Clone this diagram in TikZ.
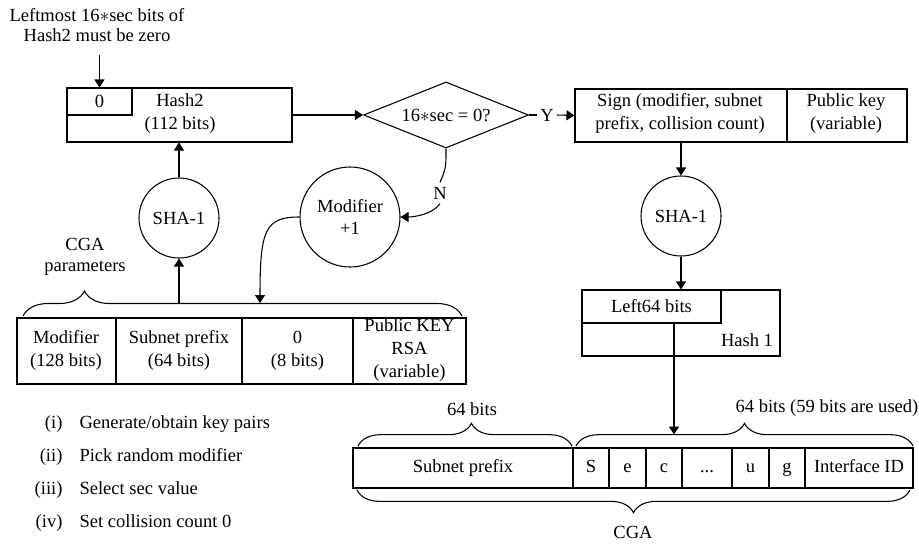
\documentclass[tikz,border=0pt]{standalone}
\usepackage{fontspec}
\setmainfont{Liberation Serif}
\usetikzlibrary{arrows.meta,shapes.geometric,fit,decorations.pathreplacing}
\newcommand{\tripledot}{...}

\begin{document}
\begin{tikzpicture}[x=0.75pt,y=-0.75pt, line width=0.8pt,
  font=\fontsize{13.9pt}{17pt}\selectfont,
  box/.style={draw, inner sep=0pt, fit={#1}},
  txt/.style={align=center, inner sep=0pt},
  arr/.style={-{Triangle[width=7.5pt,length=6pt]}},
  brc/.style={decorate, decoration={brace, amplitude=#1}},
  celltxt/.style={inner sep=0pt, execute at begin node=\strut}]
\useasboundingbox (0,0) rectangle (919,546);

% ---- Hash2 and its leading zero field ----
\node[txt, font=\fontsize{13.9pt}{15pt}\selectfont] (note) at (97,25)
  {Leftmost 16$\ast$sec bits of\\Hash2 must be zero};
\node[box={(67,88)(292,142)}] (h2) {};
\node[txt] (h2t) at (180,113.5) {Hash2\\(112 bits)};
\node[box={(67,88)(132,115)}] (z0) {};
\node[txt] (z0t) at (z0.center) {0};
\coordinate (notetip) at (99.5,55);
\draw[arr] (notetip) -- (z0.north);

% ---- decision ----
\node[draw, diamond, aspect=2.5, minimum width=123.75pt, minimum height=49.5pt,
  inner sep=1pt] (dia) at (446,115) {16$\ast$sec = 0?};
\draw[arr] (h2.east) -- (dia.west);

\node[txt, inner sep=2pt] (yes) at (547,115) {Y};
\draw (dia.east) -- (yes.west);

% ---- signature branch ----
\node[box={(575,89)(787,142)}] (signL) {};
\node[txt] at (680,113.5) (signLt) {Sign (modifier, subnet\\prefix, collision count)};
\node[box={(787,89)(907,142)}] (signR) {};
\node[txt] at (846,113.5) (signRt) {Public key\\(variable)};
\draw[arr] (yes.east) -- (signL.west);

\node[circle, draw, minimum size=60pt, inner sep=0pt] (sha2) at (681,216) {SHA-1};
\draw[arr] (signL.south) -- (sha2.north);

\node[box={(582,290)(780,356)}] (h1) {};
\node[box={(582,290)(721,323)}] (l64) {};
\node[txt] (l64t) at (l64.center) {Left64 bits};
\node[txt] (h1t) at (747,340) {Hash 1};
\draw[arr] (sha2.south) -- (h1.north);

% ---- CGA address ----
\foreach \nm/\xa/\xb/\lab in {cp/353/573/Subnet prefix, cs/573/609/S, ce/609/646/e,
    cc/646/682/c, cd/682/732/\tripledot, cu/732/769/u, cg/769/805/g, cid/805/913/Interface ID}{
  \node[box={(\xa,448)(\xb,488)}] (\nm) {};
  \node[celltxt] (\nm t) at (\nm.center) {\lab};
}

\draw[brc=17pt, decoration={aspect=0.53}] (358,446) -- (572,446);
\draw[brc=17pt] (576,446) -- (913,446);
\draw[brc=17pt] (910,490) -- (357,490);
\node[txt] (lb64) at (472,409) {64 bits};
\node[txt] (lb59) at (827,408) {64 bits (59 bits are used)};
\node[txt] (lbcga) at (633,532) {CGA};

\coordinate (ain) at (674,434.5);
\draw[arr] (l64.south -| ain) -- (ain);

% ---- CGA parameters ----
\node[box={(17,318)(116,384)}] (tm) {};
\node[txt] (tmt) at (66,350.5) {Modifier\\(128 bits)};
\node[box={(116,318)(242,384)}] (ts) {};
\node[txt] (tst) at (179,350.5) {Subnet prefix\\(64 bits)};
\node[box={(242,318)(353,384)}] (tz) {};
\node[txt] (tzt) at (297.5,350.5) {0\\(8 bits)};
\node[box={(353,318)(466,384)}] (tk) {};
\node[txt, font=\fontsize{13.9pt}{17.5pt}\selectfont] (tkt) at (409.5,350) {Public KEY\\RSA\\(variable)};

\draw[brc=18.75pt, decoration={aspect=0.14}] (23,316) -- (462,316);
\node[txt, font=\fontsize{13.9pt}{15.75pt}\selectfont] (cgap) at (85,257) {CGA\\parameters};
\coordinate (pb1) at (179,303);
\coordinate (pb2) at (260,303);

\node[circle, draw, minimum size=60pt, inner sep=0pt] (sha1) at (179,218) {SHA-1};
\draw[arr] (pb1) -- (sha1.south);
\draw[arr] (sha1.north) -- (sha1.north |- h2.south);

% ---- modifier loop ----
\node[circle, draw, minimum size=75pt, inner sep=0pt, align=center] (mod) at (350,217) {Modifier\\+1};
\node[txt, inner sep=3pt] (no) at (440,193) {N};
\draw (dia.south) .. controls (446,168) .. (no.north);
\draw[arr] (no.south) .. controls (433,214) and (415,217) .. (mod.east);
\draw[arr] (mod.west) .. controls (265,217) and (260,230) .. (pb2);

% ---- setup steps ----
\foreach \lab/\txt/\yy [count=\i] in {(i)/Generate\slash obtain key pairs/423,
    (ii)/Pick random modifier/456, (iii)/Select sec value/489,
    (iv)/Set collision count 0/522}{
  \node[anchor=base east, inner sep=0pt] (st\i) at (63,\yy+5) {\lab};
  \node[anchor=base west, inner sep=0pt] (sd\i) at (79,\yy+5) {\txt};
}
\end{tikzpicture}
\end{document}
